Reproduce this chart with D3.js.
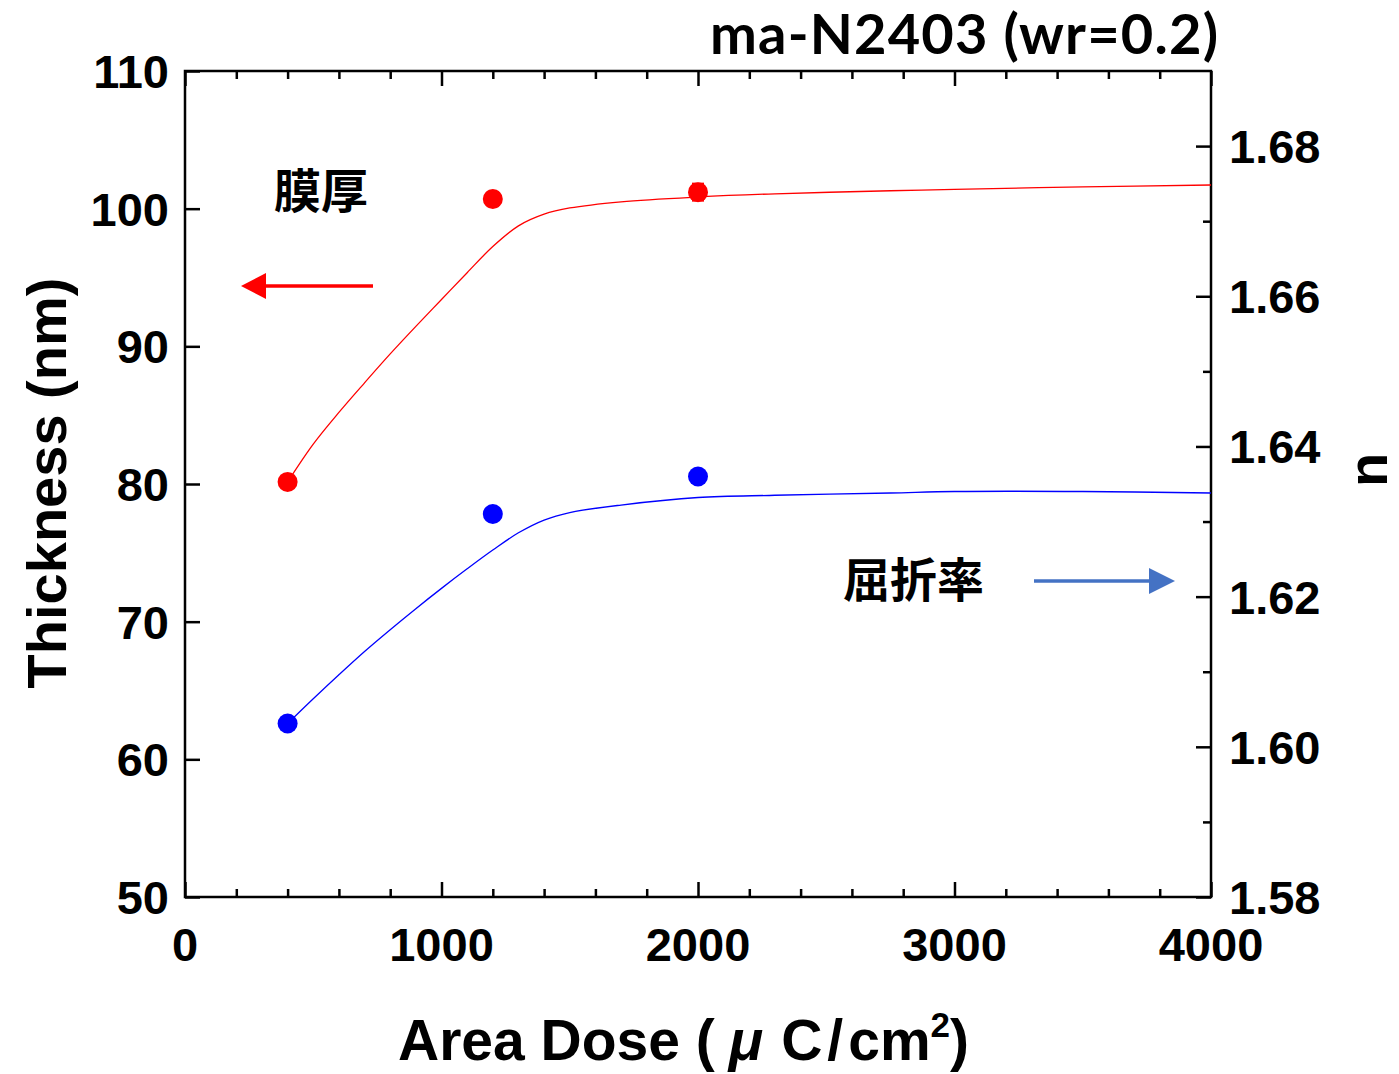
<!DOCTYPE html>
<html>
<head>
<meta charset="utf-8">
<script src="https://cdn.jsdelivr.net/npm/d3@7"></script>
<style>
  body { margin: 0; background: #fff; }
  svg { display: block; }
  .tick-label { font-family: "Liberation Sans", Arial, sans-serif; font-weight: bold; font-size: 47px; }
</style>
</head>
<body>
<div id="chart"></div>
<script>
'use strict';

// measured points
const dose = [400, 1200, 2000];
const thickness = [80.15, 100.7, 101.2];
const thicknessErr = [0.2, 0.5, 0.6];
const refIndex = [1.6031, 1.6310, 1.6360];

// fitted curves
const fitDose = [400, 500, 600, 700, 800, 900, 1000, 1100, 1200, 1300, 1400, 1500, 1700, 2000, 2300, 2750, 3000, 3500, 4000];
const fitThickness = [80.15, 82.9, 85.2, 87.35, 89.45, 91.45, 93.4, 95.35, 97.25, 98.75, 99.6, 100.05, 100.5, 100.85, 101.08, 101.3, 101.4, 101.58, 101.72];
const fitIndex = [1.6031, 1.6064, 1.6096, 1.6127, 1.6156, 1.6184, 1.6211, 1.6237, 1.6262, 1.6285, 1.6302, 1.6312, 1.6322, 1.6332, 1.6335, 1.6338, 1.6340, 1.6340, 1.6338];

const xTicks = [0, 1000, 2000, 3000, 4000];
const leftTicks = [50, 60, 70, 80, 90, 100, 110];
const rightTicks = [1.58, 1.60, 1.62, 1.64, 1.66, 1.68];

const width = 1399, height = 1074;
const plotLeft = 185, plotRight = 1211, plotTop = 71, plotBottom = 897;

const svg = d3.select('#chart').append('svg')
  .attr('width', width)
  .attr('height', height);

const x = d3.scaleLinear().domain([0, 4000]).range([plotLeft, plotRight]);
const yL = d3.scaleLinear().domain([50, 110]).range([plotBottom, plotTop]);
const yR = d3.scaleLinear().domain([1.58, 1.69]).range([plotBottom, plotTop]);

// axes (ticks inward)
const axisStyle = g => {
  g.select('.domain').remove();
  g.selectAll('.tick line').attr('stroke', '#000').attr('stroke-width', 2.5);
  g.selectAll('.tick text').remove();
};

const xMinor = d3.range(0, 4001, 200).filter(v => v % 1000 !== 0);

svg.append('g').attr('transform', `translate(0,${plotBottom})`)
  .call(d3.axisBottom(x).tickValues(xTicks).tickSize(-15)).call(axisStyle);
svg.append('g').attr('transform', `translate(0,${plotBottom})`)
  .call(d3.axisBottom(x).tickValues(xMinor).tickSize(-8)).call(axisStyle);
svg.append('g').attr('transform', `translate(0,${plotTop})`)
  .call(d3.axisTop(x).tickValues(xTicks).tickSize(-15)).call(axisStyle);
svg.append('g').attr('transform', `translate(0,${plotTop})`)
  .call(d3.axisTop(x).tickValues(xMinor).tickSize(-8)).call(axisStyle);

svg.append('g').attr('transform', `translate(${plotLeft},0)`)
  .call(d3.axisLeft(yL).tickValues(leftTicks).tickSize(-15)).call(axisStyle);

const rMinor = [1.59, 1.61, 1.63, 1.65, 1.67];
svg.append('g').attr('transform', `translate(${plotRight},0)`)
  .call(d3.axisRight(yR).tickValues(rightTicks).tickSize(-15)).call(axisStyle);
svg.append('g').attr('transform', `translate(${plotRight},0)`)
  .call(d3.axisRight(yR).tickValues(rMinor).tickSize(-8)).call(axisStyle);

// frame
svg.append('rect')
  .attr('x', plotLeft).attr('y', plotTop)
  .attr('width', plotRight - plotLeft).attr('height', plotBottom - plotTop)
  .attr('fill', 'none').attr('stroke', '#000').attr('stroke-width', 2.5);

// tick labels
svg.append('g').selectAll('text').data(xTicks).join('text')
  .attr('class', 'tick-label')
  .attr('x', d => x(d)).attr('y', 961)
  .attr('text-anchor', 'middle')
  .text(d => d);

svg.append('g').selectAll('text').data(leftTicks).join('text')
  .attr('class', 'tick-label')
  .attr('x', 169).attr('y', d => yL(d) + 17)
  .attr('text-anchor', 'end')
  .text(d => d);

svg.append('g').selectAll('text').data(rightTicks).join('text')
  .attr('class', 'tick-label')
  .attr('x', 1229).attr('y', d => yR(d) + 17)
  .attr('text-anchor', 'start')
  .text(d => d.toFixed(2));

// curves
const thickLine = d3.line()
  .x((d, i) => x(fitDose[i])).y(d => yL(d))
  .curve(d3.curveCatmullRom.alpha(0.5));
const indexLine = d3.line()
  .x((d, i) => x(fitDose[i])).y(d => yR(d))
  .curve(d3.curveCatmullRom.alpha(0.5));

svg.append('path').attr('d', thickLine(fitThickness))
  .attr('fill', 'none').attr('stroke', '#ff0000').attr('stroke-width', 1.3);
svg.append('path').attr('d', indexLine(fitIndex))
  .attr('fill', 'none').attr('stroke', '#0000ff').attr('stroke-width', 1.3);

// error bars
const err = svg.append('g').attr('stroke', '#ff0000').attr('stroke-width', 2.5);
dose.forEach((d, i) => {
  const y1 = yL(thickness[i] - thicknessErr[i]);
  const y2 = yL(thickness[i] + thicknessErr[i]);
  err.append('line').attr('x1', x(d)).attr('x2', x(d)).attr('y1', y1).attr('y2', y2);
  err.append('line').attr('x1', x(d) - 6).attr('x2', x(d) + 6).attr('y1', y1).attr('y2', y1);
  err.append('line').attr('x1', x(d) - 6).attr('x2', x(d) + 6).attr('y1', y2).attr('y2', y2);
});

// markers
svg.append('g').selectAll('circle').data(dose).join('circle')
  .attr('cx', d => x(d)).attr('cy', (d, i) => yL(thickness[i]))
  .attr('r', 10).attr('fill', '#ff0000');
svg.append('g').selectAll('circle').data(dose).join('circle')
  .attr('cx', d => x(d)).attr('cy', (d, i) => yR(refIndex[i]))
  .attr('r', 10).attr('fill', '#0000ff');

// arrows
svg.append('line').attr('x1', 373).attr('x2', 262).attr('y1', 286).attr('y2', 286)
  .attr('stroke', '#ff0000').attr('stroke-width', 3.5);
svg.append('path').attr('d', 'M241,286 L266,273 L266,299 Z').attr('fill', '#ff0000');

svg.append('line').attr('x1', 1034).attr('x2', 1152).attr('y1', 581).attr('y2', 581)
  .attr('stroke', '#4472c4').attr('stroke-width', 3.5);
svg.append('path').attr('d', 'M1175,581 L1149,568 L1149,594 Z').attr('fill', '#4472c4');

// annotations
const cjk = '"Noto Sans CJK JP", "Noto Sans CJK SC", sans-serif';
svg.append('text').attr('x', 274).attr('y', 208)
  .attr('font-family', cjk).attr('font-weight', 'bold').attr('font-size', 47)
  .text('膜厚');
svg.append('text').attr('x', 843).attr('y', 597)
  .attr('font-family', cjk).attr('font-weight', 'bold').attr('font-size', 47)
  .text('屈折率');

// title
svg.append('text').attr('x', 1218).attr('y', 54)
  .attr('text-anchor', 'end')
  .attr('font-family', 'Lato, "Open Sans", sans-serif').attr('font-weight', 'bold').attr('font-size', 56)
  .attr('textLength', 508)
  .text('ma-N2403 (wr=0.2)');

// axis titles
const sans = '"Liberation Sans", Arial, sans-serif';
svg.append('text')
  .attr('transform', 'translate(66,483) rotate(-90)')
  .attr('text-anchor', 'middle')
  .attr('font-family', sans).attr('font-weight', 'bold').attr('font-size', 56)
  .text('Thickness (nm)');

svg.append('text')
  .attr('transform', 'translate(1387,470) rotate(-90)')
  .attr('text-anchor', 'middle')
  .attr('font-family', sans).attr('font-weight', 'bold').attr('font-size', 56)
  .text('n');

const xt = svg.append('text')
  .attr('x', 398).attr('y', 1060)
  .attr('font-family', sans).attr('font-weight', 'bold').attr('font-size', 57);
xt.append('tspan').text('Area Dose (');
xt.append('tspan').attr('dx', 14).attr('font-style', 'italic').text('μ');
xt.append('tspan').attr('dx', 18).text('C');
xt.append('tspan').attr('dx', 5).text('/');
xt.append('tspan').attr('dx', 5).text('cm');
xt.append('tspan').attr('font-size', 35).attr('dy', -23).text('2');
xt.append('tspan').attr('dy', 23).text(')');
</script>
</body>
</html>
